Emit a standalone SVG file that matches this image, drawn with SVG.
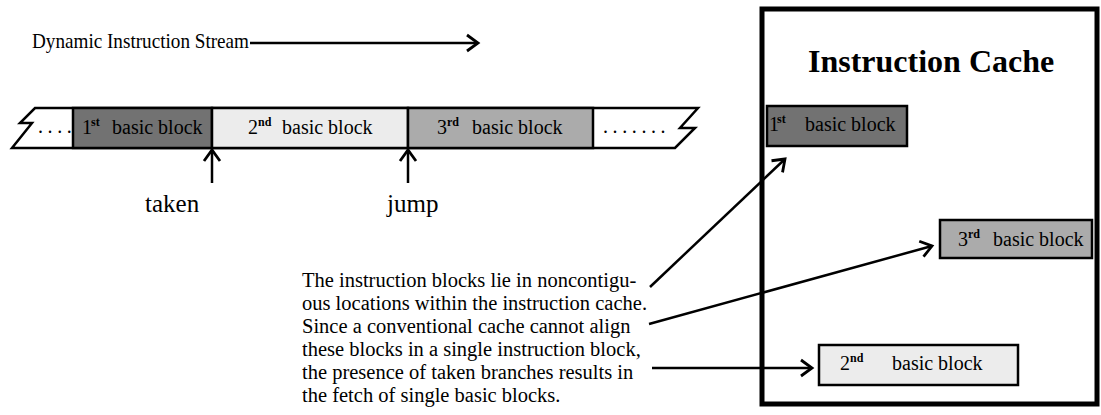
<svg xmlns="http://www.w3.org/2000/svg" width="1101" height="415" viewBox="0 0 1101 415" font-family="'Liberation Serif','Times New Roman',serif">
<style>
text{font-family:"Liberation Serif","Times New Roman",serif;fill:#000}
.bt{font-family:"Liberation Serif","Times New Roman",serif;font-size:20px}
.sup{font-family:"Liberation Serif","Times New Roman",serif;font-size:12px;font-weight:bold}
.para{font-family:"Liberation Serif","Times New Roman",serif;font-size:20.5px}
.lbl{font-family:"Liberation Serif","Times New Roman",serif;font-size:25px}
.edge{fill:none;stroke:#000;stroke-width:2.5}
.blk{stroke:#000;stroke-width:2.5}
.dark{fill:#727272}
.light{fill:#ececec}
.mid{fill:#ababab}
</style>
<defs>
<marker id="ah" markerUnits="userSpaceOnUse" viewBox="-14 -10 16 20" markerWidth="16" markerHeight="20" refX="0" refY="0" orient="auto" overflow="visible">
<path d="M-11,-8 L0,0 L-11,8" fill="none" stroke="#000" stroke-width="2.8" stroke-linejoin="miter"/>
</marker>
</defs>

<g id="stream-title">
<text x="32" y="48" font-size="21" textLength="217" lengthAdjust="spacingAndGlyphs">Dynamic Instruction Stream</text>
</g>

<g id="strip">
<path d="M35,108 L698,108 L680,128 L695,128 L675,148 L12,148 L32,123 L20,123 Z" fill="#fff" stroke="#000" stroke-width="2.5" stroke-linejoin="miter"/>
<text x="38" y="133" class="bt" style="letter-spacing:4.6px">....</text>
<text x="603" y="133" class="bt" style="letter-spacing:4.6px">.......</text>
</g>

<g id="strip-block1">
<rect x="73" y="108" width="139" height="40" class="blk dark"/>
<text x="82" y="134" class="bt">1</text><text x="91" y="126" class="sup">st</text><text x="112" y="134" class="bt">basic block</text>
</g>
<g id="strip-block2">
<rect x="212" y="108" width="196" height="40" class="blk light"/>
<text x="248" y="134" class="bt">2</text><text x="258" y="126" class="sup">nd</text><text x="282" y="134" class="bt">basic block</text>
</g>
<g id="strip-block3">
<rect x="408" y="108" width="185" height="40" class="blk mid"/>
<text x="437" y="134" class="bt">3</text><text x="447" y="126" class="sup">rd</text><text x="472" y="134" class="bt">basic block</text>
</g>

<g id="label-taken"><text x="145" y="212" class="lbl">taken</text></g>
<g id="label-jump"><text x="387" y="212" class="lbl">jump</text></g>

<g id="cache">
<rect x="762" y="9" width="335" height="395" fill="none" stroke="#000" stroke-width="5"/>
<text x="808" y="72" font-size="32" font-weight="bold">Instruction Cache</text>
</g>
<g id="cache-block1">
<rect x="767" y="106" width="140" height="40" class="blk dark"/>
<text x="769" y="131" class="bt">1</text><text x="777" y="123" class="sup">st</text><text x="805" y="131" class="bt">basic block</text>
</g>
<g id="cache-block3">
<rect x="940" y="220" width="152" height="38" class="blk mid"/>
<text x="958" y="246" class="bt">3</text><text x="968" y="238" class="sup">rd</text><text x="993" y="246" class="bt">basic block</text>
</g>
<g id="cache-block2">
<rect x="819" y="345" width="199" height="40" class="blk light"/>
<text x="840" y="370" class="bt">2</text><text x="850" y="362" class="sup">nd</text><text x="892" y="370" class="bt">basic block</text>
</g>

<g id="note">
<text class="para" x="302">
<tspan x="302" y="287">The instruction blocks lie in noncontigu-</tspan>
<tspan x="302" y="310">ous locations within the instruction cache.</tspan>
<tspan x="302" y="333">Since a conventional cache cannot align</tspan>
<tspan x="302" y="356">these blocks in a single instruction block,</tspan>
<tspan x="302" y="379">the presence of taken branches results in</tspan>
<tspan x="302" y="402">the fetch of single basic blocks.</tspan>
</text>
</g>

<g id="connectors" class="edge">
<line x1="250" y1="43" x2="478" y2="43" marker-end="url(#ah)"/>
<line x1="212" y1="183" x2="212" y2="150" marker-end="url(#ah)"/>
<line x1="408" y1="183" x2="408" y2="150" marker-end="url(#ah)"/>
<line x1="650" y1="287" x2="785" y2="159" marker-end="url(#ah)"/>
<line x1="649" y1="324" x2="932" y2="246" marker-end="url(#ah)"/>
<line x1="652" y1="368" x2="812" y2="368" marker-end="url(#ah)"/>
</g>
</svg>
